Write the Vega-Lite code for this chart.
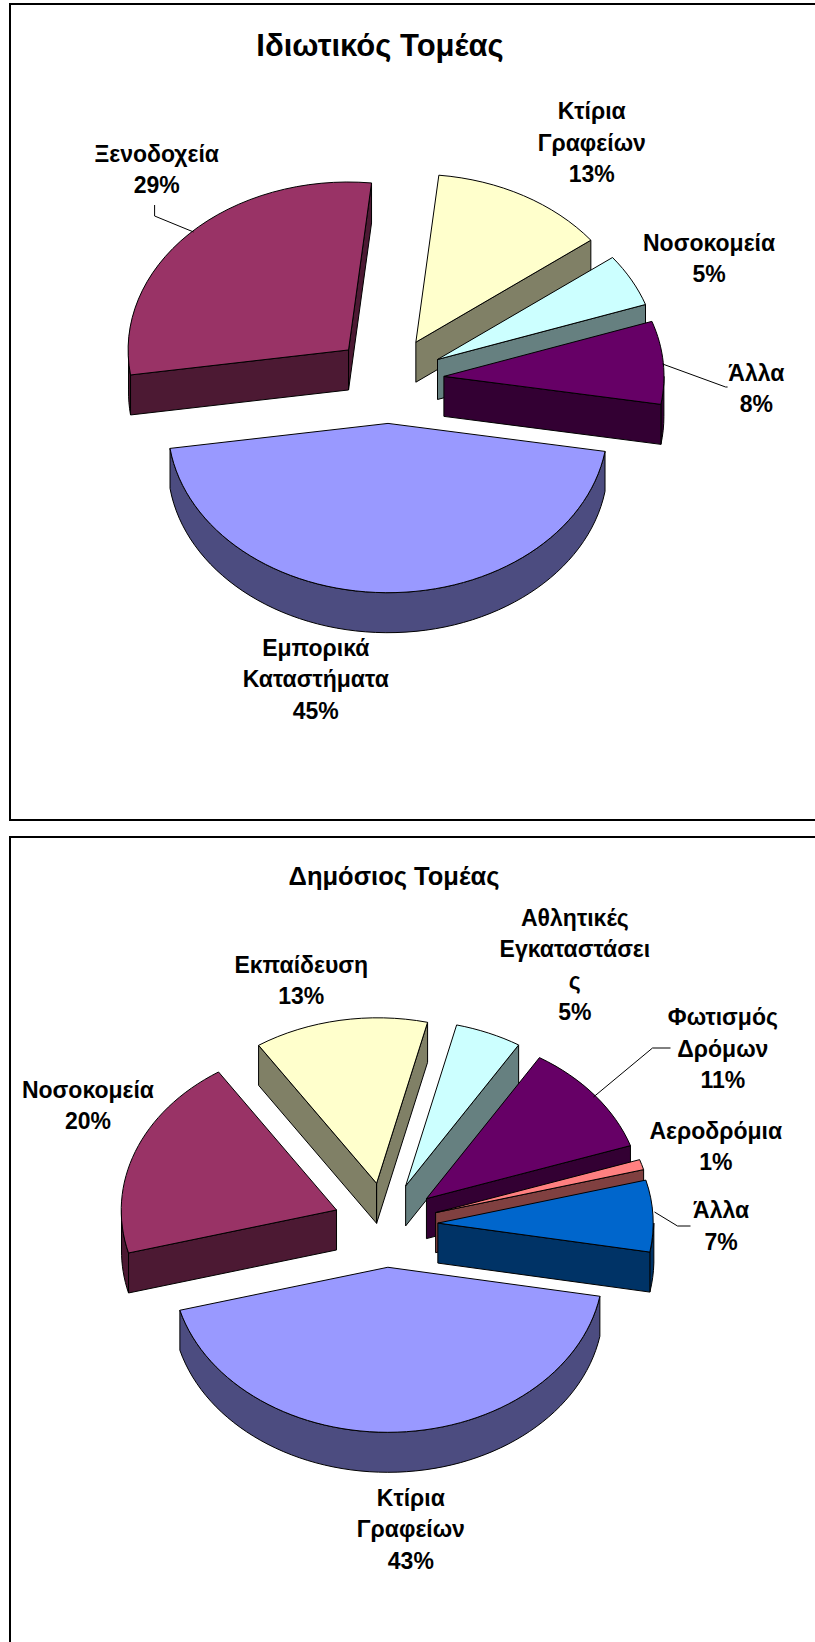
{
"$schema":"https://vega.github.io/schema/vega-lite/v6.json",
"padding":{"left":9,"top":3,"right":0,"bottom":0},
"background":"white",
"spacing":15,
"config":{"view":{"stroke":null}},
"resolve":{"scale":{"color":"independent"}},
"vconcat":[
{"width":820,"height":816,
"data":{"values":[
{"ord":1,"cat":"Κτίρια Γραφείων","pct":13,"label":"Κτίρια\nΓραφείων\n13%"},
{"ord":2,"cat":"Νοσοκομεία","pct":5,"label":"Νοσοκομεία\n5%"},
{"ord":3,"cat":"Άλλα","pct":8,"label":"Άλλα\n8%"},
{"ord":5,"cat":"Ξενοδοχεία","pct":29,"label":"Ξενοδοχεία\n29%"},
{"ord":4,"cat":"Εμπορικά Καταστήματα","pct":45,"label":"Εμπορικά\nΚαταστήματα\n45%"}
]},
"transform":[{"stack":"pct","groupby":[],"sort":[{"field":"ord","order":"ascending"}],"as":["s0","s1"]}],
"resolve":{"scale":{"color":"independent"}},
"layer":[
{"transform":[{"filter":"datum.ord==1"}],
"mark":{"type":"rect","fill":"white","stroke":"black","strokeWidth":2,"x":0,"y":0,"x2":820,"y2":816}},
{"mark":{"type":"point","filled":true,"opacity":1,"size":4,"stroke":"black","strokeWidth":1,
"x":{"expr":"378.6+55.5*sin(0.1047+PI*(datum.s0+datum.s1)/100)"},
"y":{"expr":"376-43.4*cos(0.1047+PI*(datum.s0+datum.s1)/100)"},
"shape":{"expr":"(0.1047+PI*datum.s1/50<=PI/2||0.1047+PI*datum.s0/50>=3*PI/2)?'M0,0L0,0Z':'M'+round(220*sin(clamp(0.1047+PI*datum.s0/50,PI/2,3*PI/2)))+','+round(-168*cos(clamp(0.1047+PI*datum.s0/50,PI/2,3*PI/2)))+'A220,168 0 0 1 '+round(220*sin(clamp(0.1047+PI*datum.s1/50,PI/2,3*PI/2)))+','+round(-168*cos(clamp(0.1047+PI*datum.s1/50,PI/2,3*PI/2)))+'L'+round(220*sin(clamp(0.1047+PI*datum.s1/50,PI/2,3*PI/2)))+','+(round(-168*cos(clamp(0.1047+PI*datum.s1/50,PI/2,3*PI/2)))+40)+'A220,168 0 0 0 '+round(220*sin(clamp(0.1047+PI*datum.s0/50,PI/2,3*PI/2)))+','+(round(-168*cos(clamp(0.1047+PI*datum.s0/50,PI/2,3*PI/2)))+40)+'Z'"}},
"encoding":{"color":{"field":"cat","type":"nominal","legend":null,"scale":{"domain":["Κτίρια Γραφείων","Νοσοκομεία","Άλλα","Εμπορικά Καταστήματα","Ξενοδοχεία"],"range":["#808066","#668080","#330033","#4C4C80","#4C1933"]}}}},
{"mark":{"type":"point","filled":true,"opacity":1,"size":4,"stroke":"black","strokeWidth":1,
"x":{"expr":"378.6+55.5*sin(0.1047+PI*(datum.s0+datum.s1)/100)"},
"y":{"expr":"376-43.4*cos(0.1047+PI*(datum.s0+datum.s1)/100)"},
"shape":{"expr":"'M0,0L0,0Z'+(sin(0.1047+PI*datum.s0/50)<0?'M0,0L'+round(220*sin(0.1047+PI*datum.s0/50))+','+round(-168*cos(0.1047+PI*datum.s0/50))+'L'+round(220*sin(0.1047+PI*datum.s0/50))+','+(round(-168*cos(0.1047+PI*datum.s0/50))+40)+'L0,40Z':'')+(sin(0.1047+PI*datum.s1/50)>0?'M0,0L'+round(220*sin(0.1047+PI*datum.s1/50))+','+round(-168*cos(0.1047+PI*datum.s1/50))+'L'+round(220*sin(0.1047+PI*datum.s1/50))+','+(round(-168*cos(0.1047+PI*datum.s1/50))+40)+'L0,40Z':'')"}},
"encoding":{"color":{"field":"cat","type":"nominal","legend":null,"scale":{"domain":["Κτίρια Γραφείων","Νοσοκομεία","Άλλα","Εμπορικά Καταστήματα","Ξενοδοχεία"],"range":["#808066","#668080","#330033","#4C4C80","#4C1933"]}}}},
{"mark":{"type":"point","filled":true,"opacity":1,"size":4,"stroke":"black","strokeWidth":1,
"x":{"expr":"378.6+55.5*sin(0.1047+PI*(datum.s0+datum.s1)/100)"},
"y":{"expr":"376-43.4*cos(0.1047+PI*(datum.s0+datum.s1)/100)"},
"shape":{"expr":"'M0,0L'+round(220*sin(0.1047+PI*datum.s0/50))+','+round(-168*cos(0.1047+PI*datum.s0/50))+'A220,168 0 '+(datum.s1-datum.s0>50?1:0)+' 1 '+round(220*sin(0.1047+PI*datum.s1/50))+','+round(-168*cos(0.1047+PI*datum.s1/50))+'Z'"}},
"encoding":{"color":{"field":"cat","type":"nominal","legend":null,"scale":{"domain":["Κτίρια Γραφείων","Νοσοκομεία","Άλλα","Εμπορικά Καταστήματα","Ξενοδοχεία"],"range":["#FFFFCC","#CCFFFF","#660066","#9999FF","#993366"]}}}},
{"transform":[{"filter":"datum.cat=='Ξενοδοχεία'||datum.cat=='Άλλα'"}],
"mark":{"type":"point","filled":false,"opacity":1,"size":4,"stroke":"black","strokeWidth":1,
"x":378.6,"y":376,
"shape":{"expr":"datum.cat=='Άλλα'?'M274,-16L337,7L339,7':'M-234,-175L-234,-164L-195,-148'"}}},
{"mark":{"type":"text","font":"Liberation Sans","fontWeight":"bold","fontSize":23,"lineBreak":"\n","lineHeight":31.5,"align":"center","baseline":"middle","color":"black",
"x":{"expr":"378.6+367*sin(0.1047+PI*(datum.s0+datum.s1)/100)"},
"y":{"expr":"377-283*cos(0.1047+PI*(datum.s0+datum.s1)/100)"},
"dx":{"expr":"datum.ord==1?23:datum.ord==2?-3:datum.ord==3?2:datum.ord==4?-69:33"},
"dy":{"expr":"datum.ord==1?-22:datum.ord==2?-3.5:datum.ord==3?16.5:datum.ord==4?-15:-30.5"}},
"encoding":{"text":{"field":"label"}}},
{"transform":[{"filter":"datum.ord==1"}],
"mark":{"type":"text","font":"Liberation Sans","fontWeight":"bold","fontSize":31,"align":"center","baseline":"middle","color":"black","x":370,"y":43},
"encoding":{"text":{"value":"Ιδιωτικός Τομέας"}}}
]},
{"width":820,"height":830,
"data":{"values":[
{"ord":1,"cat":"Αθλητικές Εγκαταστάσεις","pct":5,"label":"Αθλητικές\nΕγκαταστάσει\nς\n5%"},
{"ord":2,"cat":"Φωτισμός Δρόμων","pct":11,"label":"Φωτισμός\nΔρόμων\n11%"},
{"ord":3,"cat":"Αεροδρόμια","pct":1,"label":"Αεροδρόμια\n1%"},
{"ord":4,"cat":"Άλλα","pct":7,"label":"Άλλα\n7%"},
{"ord":7,"cat":"Εκπαίδευση","pct":13,"label":"Εκπαίδευση\n13%"},
{"ord":6,"cat":"Νοσοκομεία","pct":20,"label":"Νοσοκομεία\n20%"},
{"ord":5,"cat":"Κτίρια Γραφείων","pct":43,"label":"Κτίρια\nΓραφείων\n43%"}
]},
"transform":[{"stack":"pct","groupby":[],"sort":[{"field":"ord","order":"ascending"}],"as":["s0","s1"]}],
"resolve":{"scale":{"color":"independent"}},
"layer":[
{"transform":[{"filter":"datum.ord==1"}],
"mark":{"type":"rect","fill":"white","stroke":"black","strokeWidth":2,"x":0,"y":0,"x2":820,"y2":830}},
{"mark":{"type":"point","filled":true,"opacity":1,"size":4,"stroke":"black","strokeWidth":1,
"x":{"expr":"375.5+52.4*sin(0.2374+PI*(datum.s0+datum.s1)/100)"},
"y":{"expr":"388-42.3*cos(0.2374+PI*(datum.s0+datum.s1)/100)"},
"shape":{"expr":"(0.2374+PI*datum.s1/50<=PI/2||0.2374+PI*datum.s0/50>=3*PI/2)?'M0,0L0,0Z':'M'+round(215.5*sin(clamp(0.2374+PI*datum.s0/50,PI/2,3*PI/2)))+','+round(-165.5*cos(clamp(0.2374+PI*datum.s0/50,PI/2,3*PI/2)))+'A215.5,165.5 0 0 1 '+round(215.5*sin(clamp(0.2374+PI*datum.s1/50,PI/2,3*PI/2)))+','+round(-165.5*cos(clamp(0.2374+PI*datum.s1/50,PI/2,3*PI/2)))+'L'+round(215.5*sin(clamp(0.2374+PI*datum.s1/50,PI/2,3*PI/2)))+','+(round(-165.5*cos(clamp(0.2374+PI*datum.s1/50,PI/2,3*PI/2)))+40)+'A215.5,165.5 0 0 0 '+round(215.5*sin(clamp(0.2374+PI*datum.s0/50,PI/2,3*PI/2)))+','+(round(-165.5*cos(clamp(0.2374+PI*datum.s0/50,PI/2,3*PI/2)))+40)+'Z'"}},
"encoding":{"color":{"field":"cat","type":"nominal","legend":null,"scale":{"domain":["Κτίρια Γραφείων","Νοσοκομεία","Εκπαίδευση","Αθλητικές Εγκαταστάσεις","Φωτισμός Δρόμων","Αεροδρόμια","Άλλα"],"range":["#4C4C80","#4C1933","#808066","#668080","#330033","#804040","#003366"]}}}},
{"mark":{"type":"point","filled":true,"opacity":1,"size":4,"stroke":"black","strokeWidth":1,
"x":{"expr":"375.5+52.4*sin(0.2374+PI*(datum.s0+datum.s1)/100)"},
"y":{"expr":"388-42.3*cos(0.2374+PI*(datum.s0+datum.s1)/100)"},
"shape":{"expr":"'M0,0L0,0Z'+(sin(0.2374+PI*datum.s0/50)<0?'M0,0L'+round(215.5*sin(0.2374+PI*datum.s0/50))+','+round(-165.5*cos(0.2374+PI*datum.s0/50))+'L'+round(215.5*sin(0.2374+PI*datum.s0/50))+','+(round(-165.5*cos(0.2374+PI*datum.s0/50))+40)+'L0,40Z':'')+(sin(0.2374+PI*datum.s1/50)>0?'M0,0L'+round(215.5*sin(0.2374+PI*datum.s1/50))+','+round(-165.5*cos(0.2374+PI*datum.s1/50))+'L'+round(215.5*sin(0.2374+PI*datum.s1/50))+','+(round(-165.5*cos(0.2374+PI*datum.s1/50))+40)+'L0,40Z':'')"}},
"encoding":{"color":{"field":"cat","type":"nominal","legend":null,"scale":{"domain":["Κτίρια Γραφείων","Νοσοκομεία","Εκπαίδευση","Αθλητικές Εγκαταστάσεις","Φωτισμός Δρόμων","Αεροδρόμια","Άλλα"],"range":["#4C4C80","#4C1933","#808066","#668080","#330033","#804040","#003366"]}}}},
{"mark":{"type":"point","filled":true,"opacity":1,"size":4,"stroke":"black","strokeWidth":1,
"x":{"expr":"375.5+52.4*sin(0.2374+PI*(datum.s0+datum.s1)/100)"},
"y":{"expr":"388-42.3*cos(0.2374+PI*(datum.s0+datum.s1)/100)"},
"shape":{"expr":"'M0,0L'+round(215.5*sin(0.2374+PI*datum.s0/50))+','+round(-165.5*cos(0.2374+PI*datum.s0/50))+'A215.5,165.5 0 '+(datum.s1-datum.s0>50?1:0)+' 1 '+round(215.5*sin(0.2374+PI*datum.s1/50))+','+round(-165.5*cos(0.2374+PI*datum.s1/50))+'Z'"}},
"encoding":{"color":{"field":"cat","type":"nominal","legend":null,"scale":{"domain":["Κτίρια Γραφείων","Νοσοκομεία","Εκπαίδευση","Αθλητικές Εγκαταστάσεις","Φωτισμός Δρόμων","Αεροδρόμια","Άλλα"],"range":["#9999FF","#993366","#FFFFCC","#CCFFFF","#660066","#FF8080","#0066CC"]}}}},
{"transform":[{"filter":"datum.cat=='Φωτισμός Δρόμων'||datum.cat=='Άλλα'"}],
"mark":{"type":"point","filled":false,"opacity":1,"size":4,"stroke":"black","strokeWidth":1,
"x":375.5,"y":388,
"shape":{"expr":"datum.cat=='Άλλα'?'M269,-13L292,1L305,1':'M208,-128L267,-177L285,-177'"}}},
{"mark":{"type":"text","font":"Liberation Sans","fontWeight":"bold","fontSize":23,"lineBreak":"\n","lineHeight":31.5,"align":"center","baseline":"middle","color":"black",
"x":{"expr":"375.5+360*sin(0.2374+PI*(datum.s0+datum.s1)/100)"},
"y":{"expr":"389-285*cos(0.2374+PI*(datum.s0+datum.s1)/100)"},
"dx":{"expr":"datum.ord==5?9:datum.ord==6?39:datum.ord==7?-23:datum.ord==1?51:datum.ord==2?56:datum.ord==3?-14:-24"},
"dy":{"expr":"datum.ord==5?-12:datum.ord==6?-34:datum.ord==7?20.5:datum.ord==1?-44:datum.ord==2?-30:datum.ord==3?-11:-2"}},
"encoding":{"text":{"field":"label"}}},
{"transform":[{"filter":"datum.ord==1"}],
"mark":{"type":"text","font":"Liberation Sans","fontWeight":"bold","fontSize":25.5,"align":"center","baseline":"middle","color":"black","x":384,"y":40},
"encoding":{"text":{"value":"Δημόσιος Τομέας"}}}
]}
]}
